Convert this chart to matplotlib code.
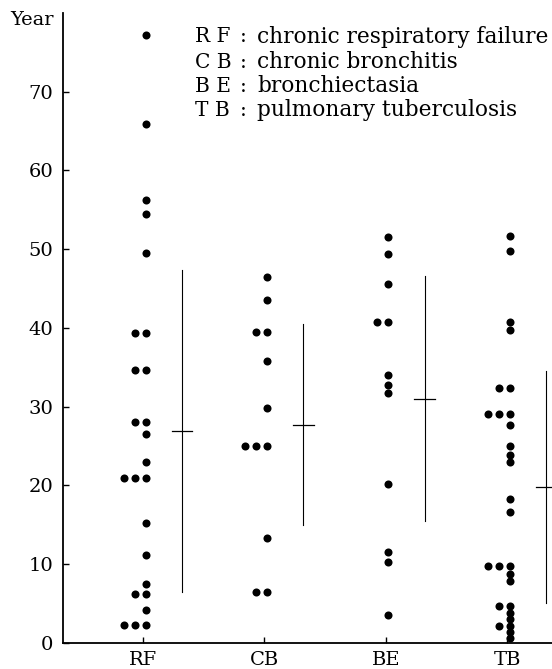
import numpy as np
import matplotlib
matplotlib.use("Agg")
import matplotlib.pyplot as plt

plt.rcParams['font.family'] = ['DejaVu Serif']

# categories and values (years)
groups = ["RF", "CB", "BE", "TB"]
rf = [77.2, 65.9, 56.2, 54.5, 49.5, 39.4, 39.4, 34.6, 34.6, 28.0, 28.0, 26.5,
      22.9, 20.9, 20.9, 20.9, 15.2, 11.1, 7.5, 6.2, 6.2, 4.2, 2.2, 2.2, 2.2]
cb = [46.4, 43.6, 39.5, 39.5, 35.8, 29.8, 25.0, 25.0, 25.0, 13.3, 6.4, 6.4]
be = [51.5, 49.4, 45.6, 40.8, 40.8, 34.0, 32.8, 31.7, 20.1, 11.5, 10.3, 3.5]
tb = [51.7, 49.7, 40.8, 39.7, 32.3, 32.3, 29.1, 29.1, 29.1, 27.6, 25.0, 23.9,
      22.9, 18.2, 16.6, 9.7, 9.7, 9.7, 8.7, 7.8, 4.6, 4.6, 3.8, 3.0, 2.1, 2.1,
      1.3, 0.6]
means = [26.9, 27.7, 31.0, 19.8]
sds = [20.5, 12.8, 15.6, 14.7]

legend_abbr = ["R F", "C B", "B E", "T B"]
legend_txt = ["chronic respiratory failure", "chronic bronchitis",
              "bronchiectasia", "pulmonary tuberculosis"]

W, H = 552, 669
fig = plt.figure(figsize=(W / 100, H / 100), dpi=100)
ax = fig.add_axes([63 / W, 26.3 / H, 1 - 63 / W, 629.7 / H])

step = 0.09
for i, vals in enumerate([rf, cb, be, tb]):
    x0 = i + 1
    uniq, counts = np.unique(vals, return_counts=True)
    for v, n in zip(uniq, counts):
        xs = x0 + 0.02 - step * np.arange(n)
        ax.plot(xs, [v] * n, 'o', color='black', markersize=5.8, markeredgewidth=0)
    # mean +- sd bar
    xe = x0 + 0.32
    ax.plot([xe, xe], [means[i] - sds[i], means[i] + sds[i]], color='black', lw=0.8)
    ax.plot([xe - 0.085, xe + 0.085], [means[i], means[i]], color='black', lw=0.9)

ax.set_xlim(0.34, 4.37)
ax.set_ylim(0, 80)
ax.set_xticks(range(1, 5))
ax.set_xticklabels(groups)
ax.set_yticks(range(0, 80, 10))
ax.tick_params(axis='both', direction='in', length=4, width=1, labelsize=14)
ax.tick_params(axis='y', pad=7)
ax.tick_params(axis='x', pad=6)
for s in ['top', 'right']:
    ax.spines[s].set_visible(False)
for s in ['left', 'bottom']:
    ax.spines[s].set_linewidth(1.3)
ax.patch.set_alpha(0)

fig.text(10 / W, 1 - 20 / H, "Year", fontsize=14, ha='left', va='center')

line_y = [37, 62, 86, 110]
for ab, txt, yy in zip(legend_abbr, legend_txt, line_y):
    fig.text(195 / W, 1 - yy / H, ab, fontsize=14.5, ha='left', va='center')
    fig.text(243 / W, 1 - yy / H, ":", fontsize=14.5, ha='center', va='center')
    fig.text(257 / W, 1 - yy / H, txt, fontsize=15.6, ha='left', va='center')

fig.savefig("out.png", dpi=100)
